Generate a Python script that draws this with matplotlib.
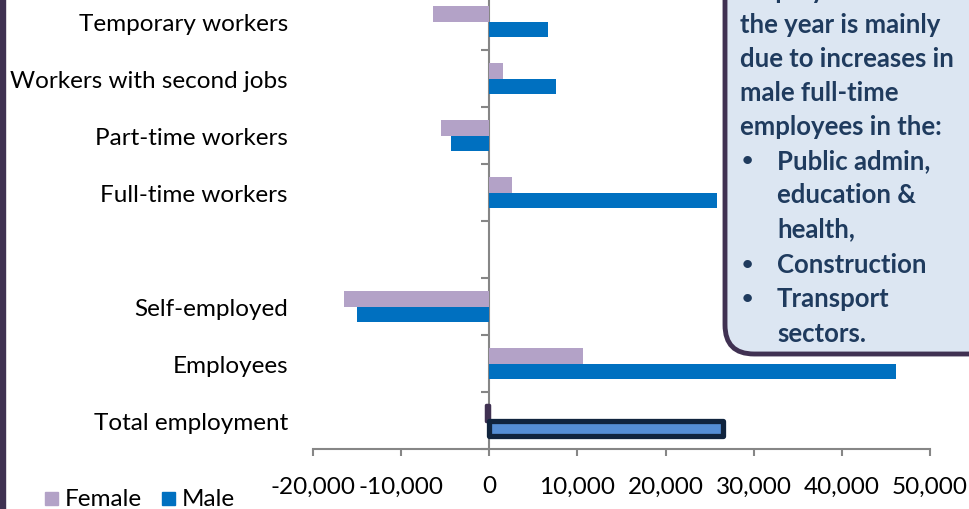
import matplotlib
matplotlib.use("Agg")
import matplotlib.pyplot as plt
from matplotlib.patches import FancyBboxPatch, Rectangle
import numpy as np

plt.rcParams['font.family'] = ['Lato', 'DejaVu Sans']

categories = ["Total employment", "Employees", "Self-employed", "",
              "Full-time workers", "Part-time workers",
              "Workers with second jobs", "Temporary workers"]
female = [-400, 10600, -16500, 0, 2600, -5500, 1500, -6400]
male = [26500, 46100, -15000, 0, 25800, -4300, 7600, 6700]
xticks = [-20000, -10000, 0, 10000, 20000, 30000, 40000, 50000]
xticklabels = ["-20,000", "-10,000", "0", "10,000", "20,000", "30,000", "40,000", "50,000"]

FEMALE_C = "#B3A2C7"
MALE_C = "#0070C0"
GREY = "#868686"
FS = 17.5

W, H = 970, 510
fig = plt.figure(figsize=(W / 100, H / 100), dpi=100)
fig.patch.set_facecolor("white")

left, right = 313 / W, 930 / W
bottom, top = 60 / H, 516 / H
ax = fig.add_axes([left, bottom, right - left, top - bottom])

y = np.arange(len(categories))
h = 0.28
fb = ax.barh(y + h / 2, female, height=h, color=FEMALE_C, zorder=3)
mb = ax.barh(y - h / 2, male, height=h, color=MALE_C, zorder=3)

# highlight total employment bars
fb[0].set_facecolor("#403152")
fb[0].set_edgecolor("#403152")
fb[0].set_linewidth(2.5)
fb[0].set_joinstyle("round")
mb[0].set_facecolor("#558ED5")
mb[0].set_edgecolor("#10243E")
mb[0].set_linewidth(3.8)
mb[0].set_joinstyle("round")

ax.set_xlim(-20000, 50000)
ax.set_ylim(-0.5, len(categories) - 0.5)
ax.set_xticks(xticks)
ax.set_xticklabels(xticklabels)
ax.set_yticks(y)
ax.set_yticklabels(categories)
ax.tick_params(axis='y', length=0, pad=18, labelsize=FS)
ax.tick_params(axis='x', length=5, width=1.5, color=GREY, pad=14, labelsize=FS)

for s in ["top", "right", "left"]:
    ax.spines[s].set_visible(False)
ax.spines["bottom"].set_color(GREY)
ax.spines["bottom"].set_linewidth(1.5)

# vertical zero axis with category boundary ticks
sec = ax.secondary_yaxis((0 - xticks[0]) / (xticks[-1] - xticks[0]))
sec.set_yticks(np.arange(len(categories) + 1) - 0.5)
sec.set_yticklabels([])
sec.tick_params(axis='y', length=6, width=1.5, color=GREY)
sec.spines["left"].set_color(GREY)
sec.spines["left"].set_linewidth(1.5)

# legend
fig.patches.append(Rectangle((45 / W, (H - 506) / H), 13 / W, 13 / H,
                             transform=fig.transFigure, color=FEMALE_C))
fig.text(65 / W, (H - 500) / H, "Female", fontsize=FS, va="center", ha="left")
fig.patches.append(Rectangle((162 / W, (H - 506) / H), 13 / W, 13 / H,
                             transform=fig.transFigure, color=MALE_C))
fig.text(182 / W, (H - 500) / H, "Male", fontsize=FS, va="center", ha="left")

# left border line
fig.patches.append(Rectangle((0, 0), 5 / W, 1, transform=fig.transFigure,
                             color="#3F3151"))

# text box
bx0, bx1 = 725 / W, 1010 / W
by0, by1 = (H - 355) / H, (H + 40) / H
box = FancyBboxPatch((bx0, by0), bx1 - bx0, by1 - by0,
                     boxstyle="round,pad=0,rounding_size=0.03",
                     transform=fig.transFigure, facecolor="#DCE6F2",
                     edgecolor="#403152", linewidth=3.5, zorder=5,
                     mutation_aspect=W / H)
fig.patches.append(box)

TXT = "#1F3B5E"
BFS = 18.5
lines = [
    (740, -9, "employment over", False),
    (740, 25, "the year is mainly", False),
    (740, 59, "due to increases in", False),
    (740, 93, "male full-time", False),
    (740, 127, "employees in the:", False),
    (777, 161, "Public admin,", True),
    (777, 195, "education &", False),
    (777, 229, "health,", False),
    (777, 265, "Construction", True),
    (777, 299, "Transport", True),
    (777, 334, "sectors.", False),
]
for x, yy, t, bullet in lines:
    fig.text(x / W, (H - yy) / H, t, fontsize=BFS, fontweight="bold",
             color=TXT, va="center", ha="left", zorder=6)
    if bullet:
        fig.text(742 / W, (H - yy) / H, "\u2022", fontsize=14, fontweight="bold",
                 color=TXT, va="center", ha="left", zorder=6)

fig.savefig("out.png", dpi=100)
